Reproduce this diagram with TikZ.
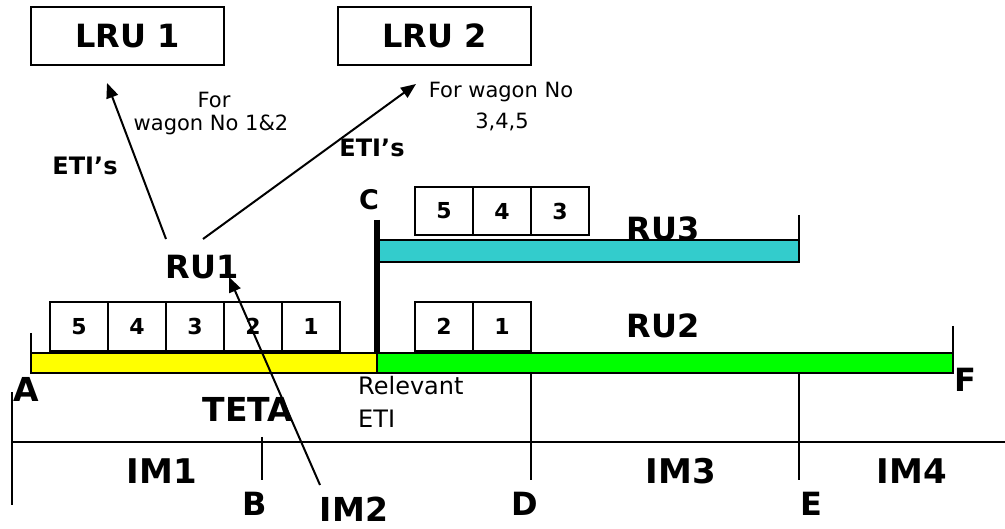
\documentclass[tikz,border=0pt]{standalone}
\usepackage{fontspec}
\setmainfont{DejaVu Sans}
\usetikzlibrary{arrows.meta}
\definecolor{ylw}{RGB}{255,255,0}
\definecolor{grn}{RGB}{0,255,0}
\definecolor{cyn}{RGB}{51,204,204}
\newcommand\myfs[1]{\fontsize{#1}{#1}\selectfont}
\begin{document}
\begin{tikzpicture}[x=1pt,y=-1pt,
  lbl/.style={inner sep=0pt, anchor=base},
  big/.style={lbl, font=\myfs{32}\bfseries},
  lrubox/.style={draw, line width=1.3pt, minimum width=193pt, minimum height=58pt, inner sep=0pt, font=\myfs{32}\bfseries},
  wagon/.style={draw, line width=1.3pt, minimum width=58pt, minimum height=49pt, inner sep=0pt, font=\myfs{22}\bfseries},
  arr/.style={line width=2pt, -{Triangle[length=15pt,width=12pt]}},
  tick/.style={line width=1.2pt},
  bar/.style={line width=1.4pt}]
\useasboundingbox (0,0) rectangle (1005,529);

% LRU boxes
\node[lrubox] (lru1) at (127.5,36) {\raisebox{-5pt}{LRU 1}};
\node[lrubox] (lru2) at (434.5,36) {\raisebox{-5pt}{LRU 2}};

% small texts
\node[lbl, font=\myfs{21}] (for1) at (214,108) {For};
\node[lbl, font=\myfs{21}] (wag1) at (211,131) {wagon No 1\&2};
\node[lbl, font=\myfs{21}] (for2) at (501,98) {For wagon No};
\node[lbl, font=\myfs{21}] (wag2) at (502,129) {3,4,5};
\node[lbl, font=\myfs{24}\bfseries] (eti1) at (85,175) {ETI’s};
\node[lbl, font=\myfs{24}\bfseries] (eti2) at (372,157) {ETI’s};

% RU labels
\node[big] (ru1) at (202,279) {RU1};
\node[big] (ru3) at (663,241) {RU3};
\node[big] (ru2) at (663,338) {RU2};
\node[lbl, font=\myfs{27}\bfseries] (c) at (369,210) {C};

% bars
\draw[bar, fill=cyn] (377,240) rectangle (799,262);
\draw[bar, fill=ylw] (31,353) rectangle (377,373);
\draw[bar, fill=grn] (377,353) rectangle (953,373);

% end ticks
\draw[tick] (799,215) -- (799,262);
\draw[tick] (953,326) -- (953,373);
\draw[tick] (31,333) -- (31,353);

% C thick line
\draw[line width=6pt] (377,220) -- (377,353);

% wagons upper
\node[wagon, minimum height=48pt] (u5) at (444,211) {\raisebox{-3pt}{5}};
\node[wagon, minimum height=48pt] (u4) at (502,211) {\raisebox{-3pt}{4}};
\node[wagon, minimum height=48pt] (u3) at (560,211) {\raisebox{-3pt}{3}};
% wagons lower left
\node[wagon] (l5) at (79,326.5) {\raisebox{-3pt}{5}};
\node[wagon] (l4) at (137,326.5) {\raisebox{-3pt}{4}};
\node[wagon] (l3) at (195,326.5) {\raisebox{-3pt}{3}};
\node[wagon] (l2) at (253,326.5) {\raisebox{-3pt}{2}};
\node[wagon] (l1) at (311,326.5) {\raisebox{-3pt}{1}};
% wagons lower right
\node[wagon] (r2) at (444,326.5) {\raisebox{-3pt}{2}};
\node[wagon] (r1) at (502,326.5) {\raisebox{-3pt}{1}};

% point labels
\node[lbl, font=\myfs{33}\bfseries] (A) at (26,402) {A};
\node[lbl, font=\myfs{32}\bfseries] (F) at (965,392) {F};
\node[lbl, font=\myfs{24}, anchor=base west] (rel) at (358,395) {Relevant};
\node[lbl, font=\myfs{24}, anchor=base west] (eti3) at (358,428) {ETI};
\node[lbl, font=\myfs{33}\bfseries] (teta) at (248,422) {TETA};

% axis
\draw[tick] (12,442) -- (1005,442);
\draw[tick] (12,392) -- (12,505);
\draw[tick] (262,437) -- (262,480);
\draw[tick] (531,373) -- (531,480);
\draw[tick] (799,373) -- (799,480);

\node[lbl, font=\myfs{34}\bfseries] (im1) at (162,483) {IM1};
\node[lbl, font=\myfs{34}\bfseries] (im3) at (681,483) {IM3};
\node[lbl, font=\myfs{34}\bfseries] (im4) at (912,483) {IM4};
\node[lbl, font=\myfs{33}\bfseries] (im2) at (354,521) {IM2};
\node[lbl, font=\myfs{32}\bfseries] (B) at (255,515) {B};
\node[lbl, font=\myfs{32}\bfseries] (D) at (525,515) {D};
\node[lbl, font=\myfs{32}\bfseries] (E) at (811,515) {E};

% arrows
\coordinate (s1) at (166,239);
\coordinate (t1) at (107,83);
\coordinate (s2) at (203,239);
\coordinate (t2) at (416,84);
\coordinate (s3) at (320,485);
\coordinate (t3) at (229,277);
\draw[arr] (s1) -- (t1);
\draw[arr] (s2) -- (t2);
\draw[arr] (s3) -- (t3);
\end{tikzpicture}
\end{document}
